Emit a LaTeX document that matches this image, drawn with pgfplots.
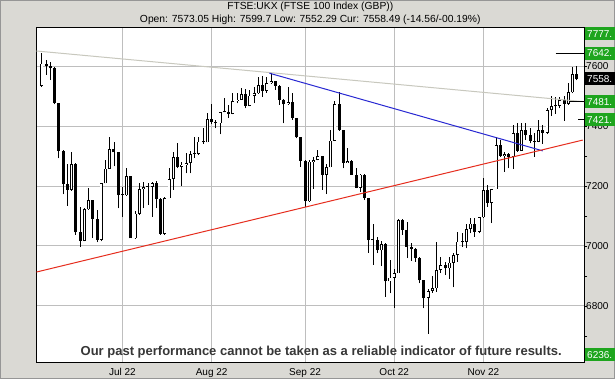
\documentclass[border=0pt]{standalone}
\usepackage{pgfplots}
\pgfplotsset{compat=1.18}
\usepackage{pgfplotstable}
\usepackage{fontspec}
\setmainfont{Liberation Sans}
\definecolor{framec}{RGB}{218,217,212}
\definecolor{framed}{RGB}{150,150,150}
\definecolor{gridc}{RGB}{190,190,190}
\definecolor{tgray}{RGB}{200,200,190}
\definecolor{tblue}{RGB}{40,40,210}
\definecolor{tred}{RGB}{230,45,30}
\definecolor{lgreen}{RGB}{30,165,30}
\definecolor{disc}{RGB}{55,55,55}

\pgfplotstableread{
x o h l c
0 7533 7642 7531 7608
1 7608 7620 7570 7599
2 7599 7614 7553 7593
3 7593 7595 7472 7476
4 7476 7476 7292 7318
5 7318 7320 7172 7206
6 7206 7272 7134 7187
7 7187 7314 7184 7273
8 7273 7275 7037 7045
9 7045 7129 6996 7016
10 7016 7128 7015 7122
11 7122 7192 7120 7152
12 7152 7153 7026 7089
13 7089 7120 7012 7020
14 7020 7209 7015 7209
15 7209 7287 7209 7258
16 7258 7362 7258 7323
17 7323 7348 7265 7312
18 7312 7312 7125 7169
19 7169 7198 7098 7169
20 7169 7259 7168 7233
21 7233 7233 7025 7025
22 7025 7115 7023 7108
23 7108 7211 7103 7189
24 7189 7214 7126 7196
25 7196 7209 7137 7197
26 7197 7214 7098 7210
27 7210 7218 7126 7156
28 7156 7159 7037 7040
29 7040 7164 7037 7159
30 7159 7259 7159 7223
31 7223 7312 7187 7296
32 7296 7342 7259 7264
33 7264 7281 7200 7271
34 7271 7311 7242 7276
35 7276 7315 7242 7306
36 7306 7364 7293 7306
37 7306 7364 7303 7348
38 7348 7392 7340 7345
39 7345 7443 7345 7423
40 7423 7473 7405 7413
41 7413 7420 7392 7409
42 7409 7446 7372 7446
43 7446 7492 7445 7448
44 7448 7470 7426 7440
45 7440 7509 7439 7482
46 7482 7511 7475 7488
47 7488 7526 7487 7507
48 7507 7522 7459 7466
49 7466 7520 7465 7501
50 7501 7531 7476 7509
51 7509 7562 7507 7536
52 7536 7567 7498 7516
53 7516 7564 7511 7542
54 7542 7578 7540 7550
55 7550 7550 7520 7534
56 7534 7536 7470 7488
57 7488 7489 7409 7472
58 7472 7531 7470 7480
59 7480 7509 7420 7427
60 7427 7427 7359 7362
61 7362 7364 7264 7284
62 7284 7287 7131 7149
63 7149 7287 7148 7281
64 7281 7295 7190 7287
65 7287 7320 7285 7300
66 7300 7300 7187 7238
67 7238 7273 7173 7262
68 7262 7387 7262 7351
69 7351 7484 7351 7473
70 7473 7514 7384 7386
71 7386 7387 7259 7277
72 7277 7325 7276 7282
73 7282 7287 7237 7237
74 7237 7259 7192 7193
75 7193 7240 7180 7238
76 7238 7240 7153 7160
77 7160 7160 6978 7019
78 7019 7073 6937 7021
79 7021 7031 6976 6985
80 6985 7018 6933 7005
81 7005 7009 6831 6882
82 6882 6953 6842 6894
83 6894 6922 6794 6909
84 6909 7089 6909 7086
85 7086 7090 7038 7053
86 7053 7081 6959 6997
87 6997 7010 6950 6991
88 6991 6992 6948 6959
89 6959 6962 6875 6885
90 6885 6887 6792 6826
91 6826 6856 6707 6850
92 6850 6900 6844 6859
93 6859 7014 6848 6920
94 6920 6964 6909 6937
95 6937 6948 6903 6925
96 6925 6964 6889 6944
97 6944 6976 6862 6970
98 6970 7048 6948 7014
99 7014 7044 6996 7013
100 7013 7073 6992 7056
101 7056 7092 7042 7074
102 7074 7092 7031 7048
103 7048 7098 7042 7095
104 7095 7225 7094 7186
105 7186 7203 7131 7144
106 7144 7189 7076 7189
107 7189 7362 7189 7335
108 7335 7353 7298 7300
109 7300 7314 7248 7306
110 7306 7309 7259 7296
111 7296 7403 7256 7375
112 7375 7409 7314 7318
113 7318 7411 7318 7385
114 7385 7411 7353 7369
115 7369 7392 7342 7351
116 7351 7376 7298 7347
117 7347 7420 7345 7386
118 7386 7403 7340 7377
119 7377 7459 7373 7453
120 7453 7500 7433 7465
121 7465 7498 7440 7467
122 7467 7498 7459 7487
123 7487 7500 7418 7474
124 7474 7542 7470 7512
125 7512 7598 7509 7573
126 7573 7600 7552 7558
}\ohlc

\begin{document}
\begin{tikzpicture}
\useasboundingbox (-36.5bp,-17bp) rectangle (578.5bp,362bp);
\fill[framec] (-36.5bp,-17bp) rectangle (578.5bp,362bp);
\draw[framed, line width=1bp] (-36bp,-16.5bp) rectangle (578bp,361.5bp);
\begin{axis}[
  at={(0,0)}, anchor=south west,
  scale only axis, width=547.5bp, height=335bp,
  xmin=-1.25, xmax=127.7, ymin=6613, ymax=7730,
  axis background/.style={fill=white},
  axis line style={black, line width=0.9bp},
  xtick={19,40,62,83,104},
  xticklabels={Jul 22,Aug 22,Sep 22,Oct 22,Nov 22},
  ytick={6800,7000,7200,7400,7600},
  minor ytick={6700,6900,7100,7300,7500,7700},
  ytick pos=right, yticklabel pos=right,
  tick align=outside,
  major tick length=3bp, minor tick length=3bp,
  xmajorgrids, ymajorgrids,
  grid style={gridc, line width=0.9bp},
  xtick style={draw=none},
  ytick style={black, line width=0.8bp},
  tick label style={font=\fontsize{10bp}{12bp}\selectfont, text=black},
  yticklabel style={anchor=west, inner sep=0pt, xshift=-1bp},
  xticklabel style={anchor=north, inner sep=0pt, yshift=-3bp},
  scaled y ticks=false,
  yticklabel={\pgfmathprintnumber[1000 sep={}]{\tick}},
  /pgf/number format/assume math mode=true,
  clip=false,
]
% wicks
\addplot[black, line width=0.9bp, mark=none, forget plot, -,
  quiver={u=0, v={\thisrow{h}-\thisrow{l}}}]
  table[x=x, y=l] {\ohlc};
% bodies (black)
\addplot[black, line width=3bp, mark=none, forget plot, -,
  quiver={u=0, v={max(abs(\thisrow{c}-\thisrow{o}),4)}}]
  table[x=x, y expr={min(\thisrow{o},\thisrow{c})}] {\ohlc};
% hollow interior for rising candles
\addplot[white, line width=1.5bp, mark=none, forget plot, -,
  quiver={u=0, v={max(\thisrow{c}-\thisrow{o}-4.8,0)}}]
  table[x=x, y expr={\thisrow{o}+2.4}] {\ohlc};
% trend lines
\addplot[tgray, line width=1bp, mark=none] coordinates {(-1.25,7650) (127.7,7481)};
\addplot[tblue, line width=1bp, mark=none] coordinates {(53.6,7576) (118,7317)};
\addplot[tred, line width=1bp, mark=none] coordinates {(-1.25,6913) (127.4,7353)};
% level markers
\addplot[black, line width=1bp, mark=none] coordinates {(121,7642) (127.7,7642)};
\addplot[black, line width=1bp, mark=none] coordinates {(124.4,7481) (127.7,7481)};
\addplot[black, line width=1bp, mark=none] coordinates {(126.3,7421) (127.7,7421)};
% right labels
\tikzset{lvl/.style={anchor=west, fill=lgreen, text=white, inner xsep=2bp, inner ysep=0pt,
  minimum height=13bp, text width=27bp, align=left, font=\fontsize{10bp}{12bp}\selectfont}}
\node[lvl] at ([xshift=1bp]axis cs:127.7,7707) {7777.};
\node[lvl] at ([xshift=1bp]axis cs:127.7,7642) {7642.};
\node[lvl, fill=black] at ([xshift=1bp]axis cs:127.7,7558) {7558.};
\node[lvl] at ([xshift=1bp]axis cs:127.7,7481) {7481.};
\node[lvl] at ([xshift=1bp]axis cs:127.7,7421) {7421.};
\node[lvl] at ([xshift=1bp]axis cs:127.7,6637) {6236.};
% disclaimer
\node[text=disc, inner sep=0pt] at ([yshift=10bp]rel axis cs:0.52,0)
  {\resizebox{481bp}{\height}{\fontsize{13bp}{14bp}\selectfont\bfseries Our past performance cannot be taken as a reliable indicator of future results.}};
% titles
\node[inner sep=0pt, font=\fontsize{10.3bp}{12bp}\selectfont] at ([yshift=20.3bp]rel axis cs:0.5,1) {FTSE:UKX (FTSE 100 Index (GBP))};
\node[inner sep=0pt, font=\fontsize{10.3bp}{12bp}\selectfont] at ([yshift=7bp]rel axis cs:0.5,1) {Open: 7573.05 High: 7599.7 Low: 7552.29 Cur: 7558.49 (-14.56/-00.19\%)};
\end{axis}
\end{tikzpicture}
\end{document}
